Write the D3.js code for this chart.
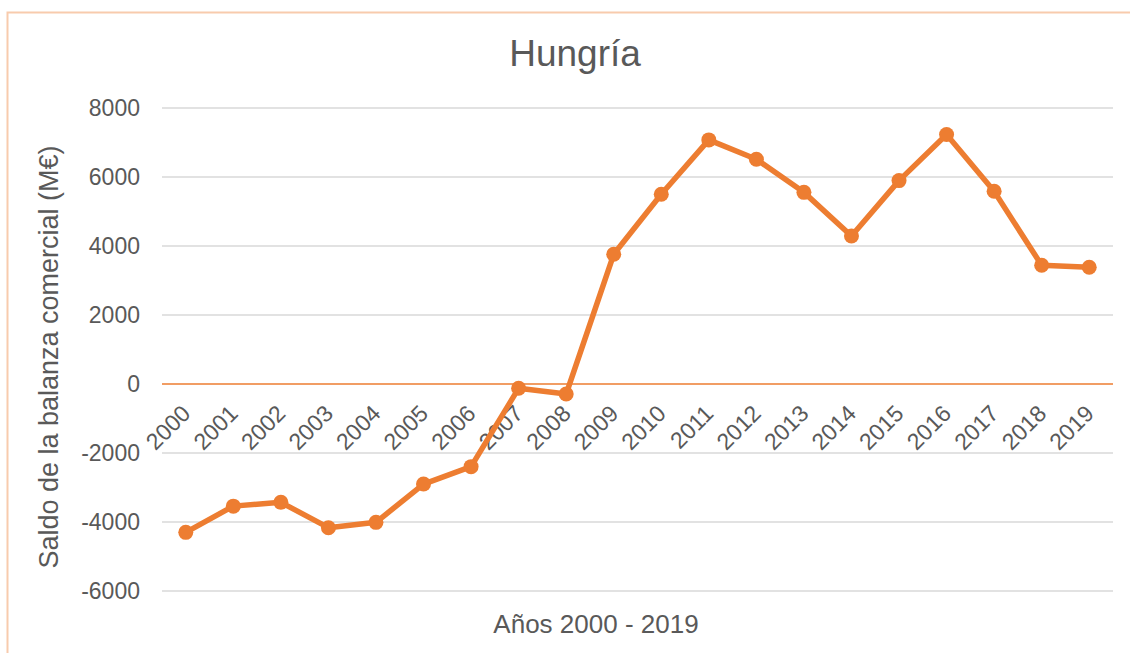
<!DOCTYPE html>
<html>
<head>
<meta charset="utf-8">
<script src="https://cdn.jsdelivr.net/npm/d3@7"></script>
<style>
  body { margin: 0; background: #fff; }
  text { font-family: "Liberation Sans", Arial, sans-serif; fill: #595959; }
</style>
</head>
<body>
<div id="Chart"></div>
<script>
var w = 1130;
var h = 653;

var years = ["2000","2001","2002","2003","2004","2005","2006","2007","2008","2009",
             "2010","2011","2012","2013","2014","2015","2016","2017","2018","2019"];
var saldo = [-4300, -3540, -3430, -4165, -4010, -2900, -2395, -125, -290, 3760,
             5500, 7075, 6515, 5555, 4290, 5895, 7230, 5585, 3440, 3385];
var yTicks = [-6000, -4000, -2000, 0, 2000, 4000, 6000, 8000];

var titulo = "Hungría";
var ejeY = "Saldo de la balanza comercial (M€)";
var ejeX = "Años 2000 - 2019";

var orange = "#ED7D31";

var svg = d3.select("#Chart").append("svg")
    .attr("width", w)
    .attr("height", h);

// chart frame
svg.append("rect")
    .attr("x", 7.5)
    .attr("y", 12.5)
    .attr("width", w + 20)
    .attr("height", h + 20)
    .attr("fill", "none")
    .attr("stroke", "#F8CBAD")
    .attr("stroke-width", 2);

var xScale = d3.scaleBand()
    .domain(years)
    .range([162, 1113]);

var yScale = d3.scaleLinear()
    .domain([-6000, 8000])
    .range([591, 108]);

// gridlines
svg.append("g").selectAll("line")
    .data(yTicks.filter(function(d){ return d != 0; }))
    .enter()
    .append("line")
    .attr("x1", 162)
    .attr("x2", 1113)
    .attr("y1", function(d){ return yScale(d); })
    .attr("y2", function(d){ return yScale(d); })
    .attr("stroke", "#D9D9D9")
    .attr("stroke-width", 1.5);

// y tick labels
svg.append("g").selectAll("text")
    .data(yTicks)
    .enter()
    .append("text")
    .attr("x", 140)
    .attr("y", function(d){ return yScale(d); })
    .attr("dy", "0.36em")
    .attr("text-anchor", "end")
    .style("font-size", "23px")
    .text(function(d){ return d; });

// zero line
svg.append("line")
    .attr("x1", 162)
    .attr("x2", 1113)
    .attr("y1", yScale(0))
    .attr("y2", yScale(0))
    .attr("stroke", orange)
    .attr("stroke-width", 1.5);

// x tick labels, rotated
svg.append("g").selectAll("text")
    .data(years)
    .enter()
    .append("text")
    .attr("text-anchor", "end")
    .style("font-size", "23px")
    .attr("transform", function(d){
        var cx = xScale(d) + xScale.bandwidth() / 2;
        return "translate(" + (cx + 6) + "," + (yScale(0) + 31) + ") rotate(-45)";
    })
    .text(function(d){ return d; });

// line
var line = d3.line()
    .x(function(d, i){ return xScale(years[i]) + xScale.bandwidth() / 2; })
    .y(function(d){ return yScale(d); });

svg.append("path")
    .datum(saldo)
    .attr("d", line)
    .attr("fill", "none")
    .attr("stroke", orange)
    .attr("stroke-width", 5.5)
    .attr("stroke-linejoin", "round");

svg.append("g").selectAll("circle")
    .data(saldo)
    .enter()
    .append("circle")
    .attr("cx", function(d, i){ return xScale(years[i]) + xScale.bandwidth() / 2; })
    .attr("cy", function(d){ return yScale(d); })
    .attr("r", 7.5)
    .attr("fill", orange);

// titles
svg.append("text")
    .attr("x", 575)
    .attr("y", 66)
    .attr("text-anchor", "middle")
    .style("font-size", "37px")
    .text(titulo);

svg.append("text")
    .attr("transform", "translate(58,357) rotate(-90)")
    .attr("text-anchor", "middle")
    .style("font-size", "27px")
    .text(ejeY);

svg.append("text")
    .attr("x", 596)
    .attr("y", 633)
    .attr("text-anchor", "middle")
    .style("font-size", "26px")
    .text(ejeX);
</script>
</body>
</html>
